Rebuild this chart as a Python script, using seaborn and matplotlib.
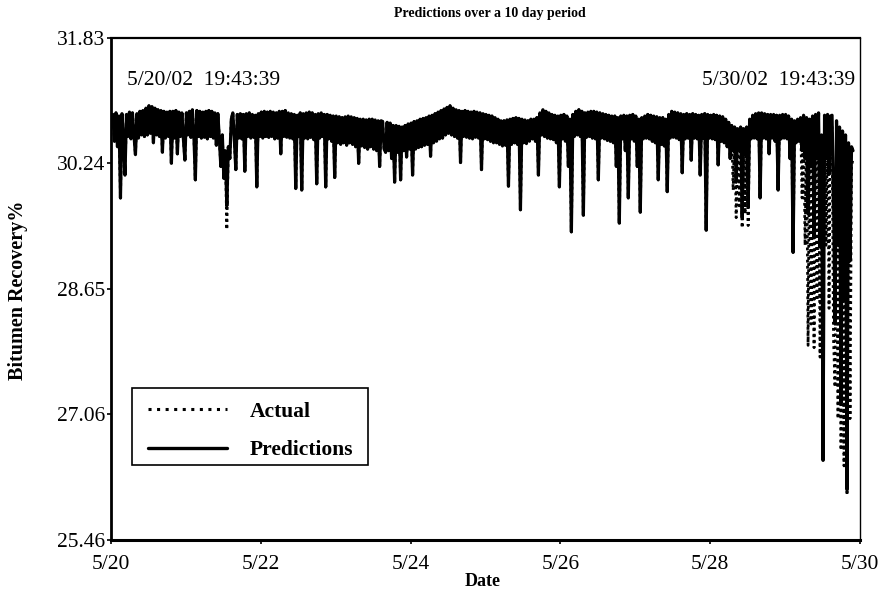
import numpy as np
import pandas as pd
import matplotlib
matplotlib.use("Agg")
import matplotlib.pyplot as plt
import matplotlib.dates as mdates
from matplotlib.lines import Line2D
from matplotlib.patches import Rectangle
import seaborn as sns

# ---------------- data ----------------
start_time = "2002-05-20 00:38"
sample_step = "1728s"   # one reading about every 29 minutes

predictions = [
    30.86, 30.52, 30.88, 30.45, 30.84, 29.80, 30.87, 30.55, 30.09, 30.86, 30.58, 30.89, 30.55, 30.88, 30.60, 30.35, 30.87, 30.56, 30.90, 30.60,
    30.91, 30.58, 30.94, 30.60, 30.97, 30.62, 30.96, 30.50, 30.94, 30.60, 30.92, 30.58, 30.91, 30.38, 30.90, 30.56, 30.89, 30.58, 30.90, 30.24,
    30.90, 30.56, 30.91, 30.36, 30.89, 30.58, 30.88, 30.55, 30.28, 30.88, 30.60, 30.90, 30.57, 30.92, 30.60, 30.03, 30.91, 30.58, 30.90, 30.56,
    30.89, 30.57, 30.90, 30.55, 30.91, 30.58, 30.90, 30.56, 30.88, 30.47, 30.87, 30.55, 30.20, 30.60, 30.05, 30.40, 29.70, 30.45, 30.30, 30.80,
    30.88, 30.55, 30.16, 30.86, 30.56, 30.87, 30.55, 30.86, 30.14, 30.87, 30.58, 30.88, 30.56, 30.86, 30.57, 30.85, 29.94, 30.87, 30.58, 30.89,
    30.56, 30.90, 30.58, 30.89, 30.57, 30.90, 30.58, 30.89, 30.55, 30.88, 30.56, 30.90, 30.36, 30.90, 30.58, 30.91, 30.57, 30.88, 30.56, 30.87,
    30.55, 30.86, 29.92, 30.85, 30.58, 30.88, 29.90, 30.87, 30.56, 30.88, 30.55, 30.89, 30.57, 30.88, 30.54, 30.86, 29.98, 30.87, 30.56, 30.88,
    30.58, 30.86, 29.94, 30.86, 30.55, 30.85, 30.52, 30.84, 30.06, 30.84, 30.50, 30.83, 30.48, 30.82, 30.50, 30.83, 30.47, 30.84, 30.50, 30.83,
    30.48, 30.82, 30.45, 30.81, 30.24, 30.80, 30.46, 30.80, 30.44, 30.79, 30.42, 30.80, 30.45, 30.80, 30.42, 30.79, 30.40, 30.78, 30.20, 30.78,
    30.77, 30.42, 30.38, 30.76, 30.40, 30.75, 30.30, 30.72, 30.00, 30.72, 30.38, 30.71, 30.03, 30.70, 30.40, 30.72, 30.32, 30.74, 30.42, 30.75,
    30.09, 30.77, 30.42, 30.78, 30.44, 30.80, 30.45, 30.81, 30.47, 30.82, 30.48, 30.84, 30.33, 30.85, 30.50, 30.87, 30.52, 30.89, 30.55, 30.91,
    30.56, 30.93, 30.60, 30.95, 30.62, 30.97, 30.60, 30.94, 30.58, 30.92, 30.56, 30.91, 30.25, 30.90, 30.58, 30.91, 30.57, 30.90, 30.56, 30.89,
    30.55, 30.90, 30.57, 30.89, 30.56, 30.88, 30.16, 30.87, 30.55, 30.86, 30.54, 30.85, 30.52, 30.84, 30.50, 30.82, 30.50, 30.80, 30.48, 30.78,
    30.46, 30.78, 30.47, 30.79, 29.95, 30.80, 30.48, 30.81, 30.50, 30.82, 30.48, 30.81, 29.65, 30.80, 30.50, 30.79, 30.49, 30.78, 30.52, 30.80,
    30.55, 30.80, 30.52, 30.82, 30.09, 30.88, 30.60, 30.92, 30.58, 30.90, 30.56, 30.88, 30.55, 30.86, 30.54, 30.85, 30.50, 30.84, 29.94, 30.85,
    30.55, 30.86, 30.52, 30.84, 30.20, 30.80, 29.37, 30.86, 30.58, 30.90, 30.60, 30.92, 30.58, 30.90, 29.58, 30.88, 30.57, 30.89, 30.58, 30.90,
    30.56, 30.90, 30.55, 30.89, 30.03, 30.88, 30.56, 30.87, 30.55, 30.86, 30.53, 30.85, 30.52, 30.84, 30.50, 30.84, 30.20, 30.82, 29.48, 30.84,
    30.55, 30.85, 30.40, 30.84, 29.80, 30.85, 30.55, 30.86, 30.52, 30.84, 30.20, 30.80, 29.62, 30.82, 30.55, 30.84, 30.56, 30.86, 30.55, 30.85,
    30.52, 30.84, 30.50, 30.83, 30.03, 30.82, 30.48, 30.82, 30.46, 30.80, 29.88, 30.86, 30.56, 30.90, 30.57, 30.89, 30.56, 30.88, 30.54, 30.87,
    30.12, 30.86, 30.55, 30.87, 30.56, 30.86, 30.28, 30.87, 30.56, 30.86, 30.55, 30.85, 30.09, 30.86, 30.56, 30.87, 29.39, 30.86, 30.56, 30.85,
    30.55, 30.86, 30.54, 30.85, 30.22, 30.84, 30.52, 30.83, 30.50, 30.80, 30.45, 30.76, 30.30, 30.72, 30.40, 30.70, 30.00, 30.68, 30.40, 30.70,
    29.55, 30.68, 30.35, 30.70, 29.70, 30.80, 30.55, 30.85, 30.56, 30.87, 30.55, 30.88, 29.80, 30.88, 30.56, 30.87, 30.55, 30.86, 30.36, 30.86,
    30.56, 30.86, 30.52, 30.85, 29.90, 30.85, 30.55, 30.86, 30.56, 30.86, 30.55, 30.84, 30.30, 30.80, 29.11, 30.78, 30.50, 30.80, 30.52, 30.82,
    30.40, 30.85, 30.30, 30.82, 29.60, 30.80, 30.20, 30.84, 29.30, 30.86, 30.30, 30.88, 29.20, 30.60, 26.47, 30.85, 30.30, 30.86, 30.10, 30.84,
    30.85, 29.80, 28.20, 30.78, 29.20, 30.70, 27.20, 30.65, 28.50, 30.60, 26.10, 30.50, 29.00, 30.45, 30.40,
]

actual = [
    30.86, 30.52, 30.88, 30.45, 30.84, 29.80, 30.87, 30.55, 30.09, 30.86, 30.58, 30.89, 30.55, 30.88, 30.60, 30.35, 30.87, 30.56, 30.90, 30.60,
    30.91, 30.58, 30.94, 30.60, 30.97, 30.62, 30.96, 30.50, 30.94, 30.60, 30.92, 30.58, 30.91, 30.38, 30.90, 30.56, 30.89, 30.58, 30.90, 30.24,
    30.90, 30.56, 30.91, 30.36, 30.89, 30.58, 30.88, 30.55, 30.28, 30.88, 30.60, 30.90, 30.57, 30.92, 30.60, 30.03, 30.91, 30.58, 30.90, 30.56,
    30.89, 30.57, 30.90, 30.55, 30.91, 30.58, 30.90, 30.56, 30.88, 30.47, 30.87, 30.55, 30.20, 30.60, 30.05, 30.40, 29.40, 30.45, 30.30, 30.80,
    30.88, 30.55, 30.16, 30.86, 30.56, 30.87, 30.55, 30.86, 30.14, 30.87, 30.58, 30.88, 30.56, 30.86, 30.57, 30.85, 29.94, 30.87, 30.58, 30.89,
    30.56, 30.90, 30.58, 30.89, 30.57, 30.90, 30.58, 30.89, 30.55, 30.88, 30.56, 30.90, 30.36, 30.90, 30.58, 30.91, 30.57, 30.88, 30.56, 30.87,
    30.55, 30.86, 29.92, 30.85, 30.58, 30.88, 29.90, 30.87, 30.56, 30.88, 30.55, 30.89, 30.57, 30.88, 30.54, 30.86, 29.98, 30.87, 30.56, 30.88,
    30.58, 30.86, 29.94, 30.86, 30.55, 30.85, 30.52, 30.84, 30.06, 30.84, 30.50, 30.83, 30.48, 30.82, 30.50, 30.83, 30.47, 30.84, 30.50, 30.83,
    30.48, 30.82, 30.45, 30.81, 30.24, 30.80, 30.46, 30.80, 30.44, 30.79, 30.42, 30.80, 30.45, 30.80, 30.42, 30.79, 30.40, 30.78, 30.20, 30.78,
    30.77, 30.42, 30.38, 30.76, 30.40, 30.75, 30.30, 30.72, 30.00, 30.72, 30.38, 30.71, 30.03, 30.70, 30.40, 30.72, 30.32, 30.74, 30.42, 30.75,
    30.09, 30.77, 30.42, 30.78, 30.44, 30.80, 30.45, 30.81, 30.47, 30.82, 30.48, 30.84, 30.33, 30.85, 30.50, 30.87, 30.52, 30.89, 30.55, 30.91,
    30.56, 30.93, 30.60, 30.95, 30.62, 30.97, 30.60, 30.94, 30.58, 30.92, 30.56, 30.91, 30.25, 30.90, 30.58, 30.91, 30.57, 30.90, 30.56, 30.89,
    30.55, 30.90, 30.57, 30.89, 30.56, 30.88, 30.16, 30.87, 30.55, 30.86, 30.54, 30.85, 30.52, 30.84, 30.50, 30.82, 30.50, 30.80, 30.48, 30.78,
    30.46, 30.78, 30.47, 30.79, 29.95, 30.80, 30.48, 30.81, 30.50, 30.82, 30.48, 30.81, 29.65, 30.80, 30.50, 30.79, 30.49, 30.78, 30.52, 30.80,
    30.55, 30.80, 30.52, 30.82, 30.09, 30.88, 30.60, 30.92, 30.58, 30.90, 30.56, 30.88, 30.55, 30.86, 30.54, 30.85, 30.50, 30.84, 29.94, 30.85,
    30.55, 30.86, 30.52, 30.84, 30.20, 30.80, 29.37, 30.86, 30.58, 30.90, 30.60, 30.92, 30.58, 30.90, 29.58, 30.88, 30.57, 30.89, 30.58, 30.90,
    30.56, 30.90, 30.55, 30.89, 30.03, 30.88, 30.56, 30.87, 30.55, 30.86, 30.53, 30.85, 30.52, 30.84, 30.50, 30.84, 30.20, 30.82, 29.48, 30.84,
    30.55, 30.85, 30.40, 30.84, 29.80, 30.85, 30.55, 30.86, 30.52, 30.84, 30.20, 30.80, 29.62, 30.82, 30.55, 30.84, 30.56, 30.86, 30.55, 30.85,
    30.52, 30.84, 30.50, 30.83, 30.03, 30.82, 30.48, 30.82, 30.46, 30.80, 29.88, 30.86, 30.56, 30.90, 30.57, 30.89, 30.56, 30.88, 30.54, 30.87,
    30.12, 30.86, 30.55, 30.87, 30.56, 30.86, 30.28, 30.87, 30.56, 30.86, 30.55, 30.85, 30.09, 30.86, 30.56, 30.87, 29.39, 30.86, 30.56, 30.85,
    30.55, 30.86, 30.54, 30.85, 30.22, 30.84, 30.52, 30.83, 30.50, 30.80, 30.45, 30.76, 30.30, 30.72, 29.90, 30.70, 29.55, 30.68, 29.70, 30.70,
    29.42, 30.68, 29.60, 30.70, 29.45, 30.80, 30.55, 30.85, 30.56, 30.87, 30.55, 30.88, 29.80, 30.88, 30.56, 30.87, 30.55, 30.86, 30.36, 30.86,
    30.56, 30.86, 30.52, 30.85, 29.90, 30.85, 30.55, 30.86, 30.56, 30.86, 30.55, 30.84, 30.30, 30.80, 29.11, 30.78, 30.50, 30.80, 30.52, 30.82,
    29.80, 30.85, 29.20, 30.70, 27.93, 30.75, 28.20, 30.80, 27.90, 30.82, 28.50, 30.80, 27.78, 30.40, 29.00, 30.80, 29.20, 30.82, 28.40, 30.75,
    30.70, 28.00, 27.40, 30.65, 27.00, 30.60, 26.60, 30.55, 26.40, 30.50, 26.03, 30.30, 27.00, 30.20, 30.30,
]

y_ticks = [25.46, 27.06, 28.65, 30.24, 31.83]
x_tick_dates = ["2002-05-20", "2002-05-22", "2002-05-24", "2002-05-26", "2002-05-28", "2002-05-30"]
x_tick_labels = ["5/20", "5/22", "5/24", "5/26", "5/28", "5/30"]
series_names = ["Actual", "Predictions"]
start_stamp = "5/20/02  19:43:39"
end_stamp = "5/30/02  19:43:39"

# ---------------- build frame ----------------
times = pd.date_range(start_time, periods=len(predictions), freq=sample_step)
df_act = pd.DataFrame({"Date": times, "value": actual})
df_pred = pd.DataFrame({"Date": times, "value": predictions})

sns.set_theme(style="white")
plt.rcParams["font.family"] = ["Liberation Serif", "DejaVu Serif"]
for key in ["text.color", "axes.labelcolor", "xtick.color", "ytick.color"]:
    plt.rcParams[key] = "black"

fig = plt.figure(figsize=(8.88, 5.93), dpi=100)
ax = fig.add_axes([0.125, 0.0894, 0.8435, 0.8465])

sns.lineplot(data=df_act, x="Date", y="value", ax=ax, color="black",
             linewidth=2.0, linestyle=(0, (1, 1.2)), estimator=None)
sns.lineplot(data=df_pred, x="Date", y="value", ax=ax, color="black",
             linewidth=2.3, estimator=None)

ax.set_xlim(pd.Timestamp("2002-05-20"), pd.Timestamp("2002-05-30"))
ax.set_ylim(y_ticks[0], y_ticks[-1])
ax.set_yticks(y_ticks)
ax.set_yticklabels([f"{v:.2f}" for v in y_ticks])
ax.set_xticks([mdates.date2num(pd.Timestamp(d)) for d in x_tick_dates])
ax.set_xticklabels(x_tick_labels)
ax.set_xlabel("")
ax.set_ylabel("")

ax.tick_params(axis="y", which="major", direction="out", length=3, width=1.2,
               pad=1, labelsize=15.5, left=True, colors="black")
ax.tick_params(axis="x", which="major", direction="out", length=3, width=1.2,
               pad=8, labelsize=15.5, bottom=True, colors="black")

for side, lw in [("left", 2.0), ("bottom", 2.2), ("top", 1.6), ("right", 1.0)]:
    ax.spines[side].set_visible(True)
    ax.spines[side].set_color("black")
    ax.spines[side].set_linewidth(lw)

# legend (frameless, with a separately drawn box)
handles = [Line2D([], [], color="black", linewidth=2.2, linestyle=(0, (1, 1.8))),
           Line2D([], [], color="black", linewidth=2.4)]
leg = ax.legend(handles, series_names, loc="upper left", bbox_to_anchor=(0.0494, 0.276),
                frameon=False,
                prop={"family": "Liberation Serif", "weight": "bold", "size": 15.5},
                handlelength=3.67, handletextpad=1.07, labelspacing=0.87,
                borderpad=0, borderaxespad=0)
ax.add_patch(Rectangle((0.028, 0.149), 0.315, 0.153, transform=ax.transAxes,
                       facecolor="none", edgecolor="black", linewidth=1.2, zorder=5))

# texts
fig.text(0.143, 0.865, start_stamp, ha="left", va="center", fontsize=15.5)
fig.text(0.963, 0.865, end_stamp, ha="right", va="center", fontsize=15.5)
fig.text(0.552, 0.978, "Predictions over a 10 day period", ha="center", va="center",
         fontsize=10, fontweight="bold")
fig.text(0.020, 0.511, "Bitumen Recovery%", ha="center", va="center", rotation=90,
         fontsize=14.5, fontweight="bold")
fig.text(0.544, 0.019, "Date", ha="center", va="center", fontsize=13, fontweight="bold")

fig.savefig("out.png", dpi=100)
